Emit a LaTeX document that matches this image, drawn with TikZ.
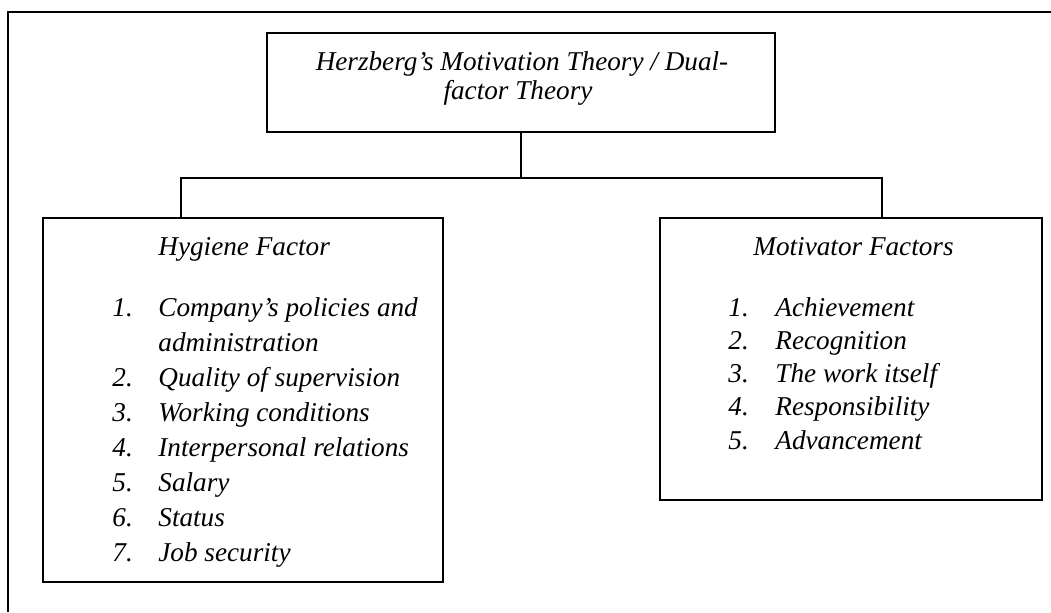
\documentclass[tikz,border=0pt]{standalone}
\usepackage{fontspec}
\setmainfont{Liberation Serif}
\begin{document}
\begin{tikzpicture}[
      factor box/.style ={draw,line width=#1,inner sep=0pt},
      factor box/.default=1.2pt,
      item text/.style ={inner sep=0pt,anchor=base west,font=\fontsize{13.6}{15}\selectfont\itshape},
      x=0.5pt,y=0.5pt]
    \useasboundingbox (0,0) rectangle (1051,612);
    \draw[line width=1.4pt] (8,0) -- (8,600) -- (1051,600);
    \node[factor box,minimum width=254pt,minimum height=49.5pt] (theory) at (521,529.5) {};
    \node[factor box,minimum width=200pt,minimum height=182pt] (hygiene) at (243,212) {};
    \node[factor box,minimum width=191pt,minimum height=141pt] (motivator) at (851,253) {};
    \coordinate (split left) at (181,434);
    \coordinate (split right) at (882,434);
    \draw[line width=1.2pt] (theory.south) -- (theory.south |- split left);
    \draw[line width=1.2pt] (split left |- hygiene.north) -- (split left) -- (split right) -- (split right |- motivator.north);
    \node[item text,anchor=base] (theory one) at (522,541) {Herzberg’s Motivation Theory / Dual-};
    \node[item text,anchor=base] (theory two) at (518,512) {factor Theory};
    \node[item text] (hygiene title) at (158,357) {Hygiene Factor};
    \node[item text] (motivator title) at (753,357) {Motivator Factors};
    \foreach \num/\txt [count=\i from 0] in {1./Company’s policies and,/administration,2./Quality of supervision,3./Working conditions,4./Interpersonal relations,5./Salary,6./Status,7./Job security}{
      \node[item text] (hygiene num \i) at (112,296-35*\i) {\num};
      \node[item text] (hygiene item \i) at (158,296-35*\i) {\txt};
    }
    \foreach \num/\txt [count=\i from 0] in {1./Achievement,2./Recognition,3./The work itself,4./Responsibility,5./Advancement}{
      \node[item text] (motivator num \i) at (728,296-33.25*\i) {\num};
      \node[item text] (motivator item \i) at (775,296-33.25*\i) {\txt};
    }
    \end{tikzpicture}
\end{document}
